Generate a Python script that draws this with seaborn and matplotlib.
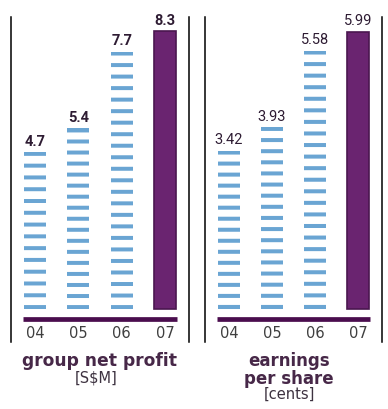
import matplotlib
matplotlib.use("Agg")
import matplotlib.pyplot as plt
import seaborn as sns
import pandas as pd

# ---- data ----
years = ["04", "05", "06", "07"]
profit = [4.7, 5.4, 7.7, 8.3]
eps = [3.42, 3.93, 5.58, 5.99]
profit_labels = ["4.7", "5.4", "7.7", "8.3"]
eps_labels = ["3.42", "3.93", "5.58", "5.99"]
title_left = "group net profit"
unit_left = "[S$M]"
title_right = "earnings\nper share"
unit_right = "[cents]"

BLUE = "#6aa5d3"
PURPLE = "#6a2470"
PURPLE_EDGE = "#4a164f"
BASE = "#4a0d4e"
TXT = "#2e1c33"
TITLE = "#472848"

sns.set_theme(style="white")
plt.rcParams['font.family'] = ['DejaVu Sans']

W, H = 388, 410
fig = plt.figure(figsize=(W / 100, H / 100), dpi=100)


def axes_px(x0, x1, y0, y1):
    return fig.add_axes([x0 / W, 1 - y1 / H, (x1 - x0) / W, (y1 - y0) / H])


VALUE_FONT = ['Liberation Sans Narrow', 'Roboto', 'DejaVu Sans']


def panel(ax, values, labels, scale, bold):
    df = pd.DataFrame({"year": years, "value": values})
    sns.barplot(data=df, x="year", y="value", hue="year",
                palette=[BLUE, BLUE, BLUE, PURPLE], legend=False,
                width=0.51, ax=ax, saturation=1)
    for i, p in enumerate(ax.patches):
        if i == 3:
            p.set_zorder(3)
            p.set_edgecolor(PURPLE_EDGE)
            p.set_linewidth(1.2)
        else:
            p.set_zorder(2)
            p.set_linewidth(0)
    top = values[3] + 14.5 / scale
    bottom = -33 / scale
    ax.set_ylim(bottom, top)
    ax.set_xlim(-0.555, 3.555)
    # white gaps forming stripes: full stripes at bottom and top of each bar
    P_nom = 11.4
    s_px = 4.0
    for i, v in enumerate(values[:3]):
        v_px = v * scale
        n = int(round((v_px - s_px) / P_nom)) + 1
        P = (v_px - s_px) / (n - 1)
        gap = P - s_px
        ys = [(k * P + s_px + gap / 2) / scale for k in range(n - 1)]
        lc = ax.hlines(ys, i - 0.3, i + 0.3, colors="white",
                       lw=gap * 0.72, zorder=2.5)
        lc.set_capstyle("butt")
        lc.set_snap(False)
    # baseline
    ax.axhline(-10 / scale, xmin=0.067, xmax=0.933, color=BASE, lw=3.4,
               zorder=4, solid_capstyle="butt")
    # value labels
    for i, (v, lab) in enumerate(zip(values, labels)):
        ax.annotate(lab, (i, v), xytext=(0, 3), textcoords="offset points",
                    ha="center", va="bottom", fontsize=10.5,
                    fontweight="bold" if bold else "normal",
                    family=VALUE_FONT, color=TXT, zorder=5)
    ax.set_xlabel("")
    ax.set_ylabel("")
    ax.set_yticks([])
    ax.tick_params(axis="x", length=0, pad=-12.5, labelsize=10.5,
                   labelcolor="#3f3f3f")
    for sp in ["top", "bottom"]:
        ax.spines[sp].set_visible(False)
    for sp in ["left", "right"]:
        ax.spines[sp].set_visible(True)
        ax.spines[sp].set_color("black")
        ax.spines[sp].set_linewidth(1.1)
    ax.set_facecolor("none")


ax1 = axes_px(11, 189, 18, 343)
panel(ax1, profit, profit_labels, (310 - 32) / 8.3, True)
ax2 = axes_px(205, 382, 18, 343)
panel(ax2, eps, eps_labels, (310 - 33) / 5.99, False)

fig.text(100 / W, 1 - 361 / H, title_left, ha="center", va="center",
         fontsize=12.3, fontweight="bold", color=TITLE)
fig.text(96 / W, 1 - 378 / H, unit_left, ha="center", va="center",
         fontsize=10.5, color="#3d3240")
fig.text(289 / W, 1 - 370 / H, title_right, ha="center", va="center",
         fontsize=12, fontweight="bold", color=TITLE, linespacing=0.97)
fig.text(289 / W, 1 - 394 / H, unit_right, ha="center", va="center",
         fontsize=10.5, color="#3d3240")

fig.savefig("out.png", dpi=100)
